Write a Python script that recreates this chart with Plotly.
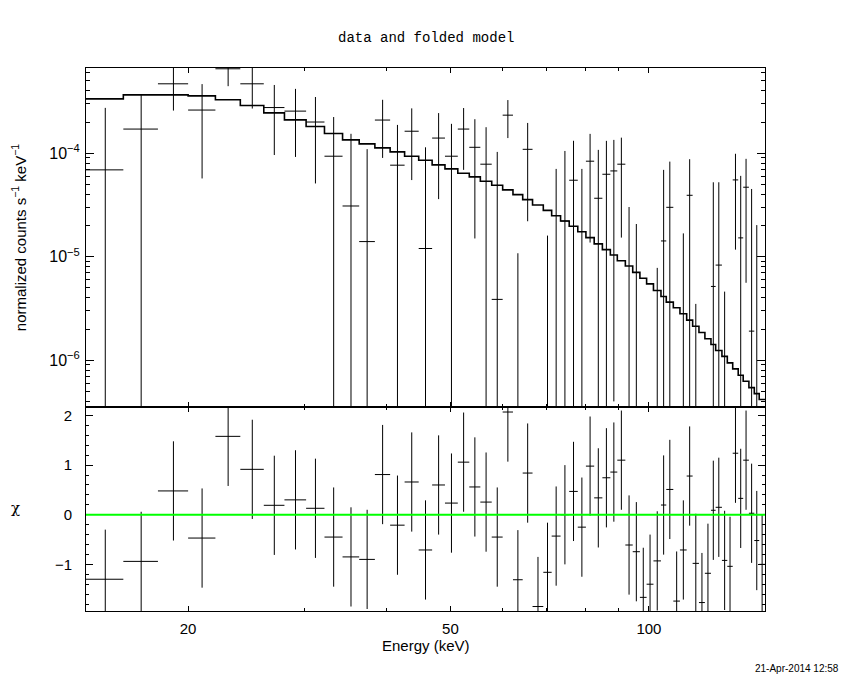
import math

import plotly.graph_objects as go
from plotly.subplots import make_subplots

# Spectrum: bin edges (keV), data, 1-sigma errors,
# folded model (normalized counts s^-1 keV^-1) and chi residuals

e_edges = [14.0, 15.95, 18.0, 20.0, 22.0, 24.0, 26.05, 28.0, 30.2, 32.2,
           34.3, 36.35, 38.4, 40.5, 42.6, 44.75, 46.9, 49.05, 51.3, 53.4,
           55.5, 57.75, 60.0, 62.2, 64.35, 66.6, 69.15, 71.2, 73.45, 75.7,
           78.0, 80.25, 82.6, 85.0, 87.4, 89.55, 92.1, 94.5, 96.9, 99.2,
           101.6, 104.3, 106.25, 108.9, 111.45, 114.1, 116.5, 119.1, 121.6, 124.2,
           126.25, 129.05, 131.5, 134.0, 136.6, 139.0, 141.8, 144.5, 147.0, 150.0]

rate = [6.9e-5, 1.71e-4, 4.68e-4, 2.61e-4, 6.54e-4, 4.68e-4, 2.76e-4, 2.55e-4, 2.0e-4, 9.35e-5,
        3.09e-5, 1.4e-5, 2.09e-4, 7.66e-5, 1.63e-4, 1.2e-5, 1.40e-4, 9.35e-5, 1.71e-4, 1.14e-4,
        7.83e-5, 3.87e-6, 2.33e-4, -8.27e-5, 1.09e-4, -1.26e-4, -6.0e-5, -9.5e-6, 2.21e-5, 5.48e-5,
        0.0, 8.37e-5, 3.67e-5, 6.26e-5, 6.74e-5, 7.83e-5, -2.65e-5, -3.3e-5, -8.0e-5, -6.45e-5,
        -3.57e-5, 1.42e-5, 3.0e-5, -8.4e-5, -3.15e-5, 3.92e-5, -4.45e-5, -7.95e-5, -5.15e-5, 5.16e-6,
        8.3e-6, -3.91e-5, -4.38e-5, 5.52e-5, 1.52e-5, 4.69e-5, 1.91e-6, -2.1e-5, -4.2e-5]

rate_err = [2.05e-4, 2.0e-4, 2.1e-4, 2.04e-4, 2.1e-4, 1.98e-4, 1.8e-4, 1.63e-4, 1.49e-4, 1.3e-4,
            1.23e-4, 9.54e-5, 1.19e-4, 1.11e-4, 1.08e-4, 1.02e-4, 1.04e-4, 9.86e-5, 1.02e-4, 9.9e-5,
            1.0e-4, 9.9e-5, 9.3e-5, 9.35e-5, 8.7e-5, 8.5e-5, 7.6e-5, 8.0e-5, 8.3e-5, 7.7e-5,
            7.05e-5, 7.0e-5, 7.1e-5, 6.9e-5, 6.7e-5, 6.3e-5, 5.67e-5, 5.37e-5, 5.2e-5, 5.0e-5,
            4.35e-5, 5.48e-5, 5.29e-5, 5.0e-5, 4.83e-5, 4.83e-5, 4.8e-5, 4.6e-5, 4.5e-5, 4.72e-5,
            4.41e-5, 4.37e-5, 4.3e-5, 4.35e-5, 4.52e-5, 4.13e-5, 4.32e-5, 4.12e-5, 4.2e-5]

model = [3.35e-4, 3.66e-4, 3.66e-4, 3.58e-4, 3.28e-4, 2.89e-4, 2.45e-4, 2.10e-4, 1.81e-4, 1.55e-4,
         1.345e-4, 1.23e-4, 1.125e-4, 1.03e-4, 9.35e-5, 8.56e-5, 7.71e-5, 7.05e-5, 6.40e-5, 5.90e-5,
         5.36e-5, 4.90e-5, 4.42e-5, 3.98e-5, 3.56e-5, 3.16e-5, 2.80e-5, 2.49e-5, 2.21e-5, 1.97e-5,
         1.74e-5, 1.53e-5, 1.33e-5, 1.17e-5, 1.04e-5, 9.14e-6, 8.12e-6, 7.06e-6, 6.2e-6, 5.47e-6,
         4.72e-6, 4.13e-6, 3.64e-6, 3.21e-6, 2.81e-6, 2.44e-6, 2.13e-6, 1.85e-6, 1.61e-6, 1.42e-6,
         1.24e-6, 1.09e-6, 9.42e-7, 8.24e-7, 7.16e-7, 6.26e-7, 5.44e-7, 4.76e-7, 4.17e-7]

chi = [-1.30, -0.94, 0.48, -0.47, 1.58, 0.915, 0.19, 0.30, 0.13, -0.45,
       -0.85, -0.90, 0.81, -0.21, 0.66, -0.71, 0.60, 0.235, 1.06, 0.56,
       0.255, -0.45, 2.07, -1.31, 0.84, -1.85, -1.16, -0.43, 0.0, 0.47,
       -0.25, 0.98, 0.34, 0.745, 0.86, 1.10, -0.61, -0.745, -1.665, -1.40,
       -0.93, 0.196, 0.51, -1.74, -0.71, 0.78, -0.98, -1.77, -1.18, 0.09,
       0.15, -0.92, -1.04, 1.24, 0.33, 1.10, 0.03, -0.52, -1.0]

e_lo = e_edges[:-1]
e_hi = e_edges[1:]
e_mid = [(a + b) / 2 for a, b in zip(e_lo, e_hi)]

FLOOR = 1e-9  # bars that run below zero just go off the bottom of the log axis

# data crosses, top panel
vx, vy, hx, hy = [], [], [], []
for lo, hi, mid, r, s in zip(e_lo, e_hi, e_mid, rate, rate_err):
    if r + s > 0:
        vx += [mid, mid, None]
        vy += [max(r - s, FLOOR), r + s, None]
    if r > 0:
        hx += [lo, hi, None]
        hy += [r, r, None]

# residual crosses (+-1 sigma), bottom panel
rvx, rvy, rhx, rhy = [], [], [], []
for lo, hi, mid, c in zip(e_lo, e_hi, e_mid, chi):
    rvx += [mid, mid, None]
    rvy += [c - 1, c + 1, None]
    rhx += [lo, hi, None]
    rhy += [c, c, None]

fig = make_subplots(rows=2, cols=1, shared_xaxes=True, vertical_spacing=0,
                    row_heights=[0.6249, 0.3751])

line_k = dict(color="black", width=1)
fig.add_trace(go.Scatter(x=vx, y=vy, mode="lines", line=line_k, connectgaps=False,
                         hoverinfo="skip"), row=1, col=1)
fig.add_trace(go.Scatter(x=hx, y=hy, mode="lines", line=line_k, connectgaps=False,
                         hoverinfo="skip"), row=1, col=1)
fig.add_trace(go.Scatter(x=e_edges, y=model + [model[-1]], mode="lines",
                         line=dict(color="black", width=1.6, shape="hv")), row=1, col=1)

fig.add_trace(go.Scatter(x=rvx, y=rvy, mode="lines", line=line_k, connectgaps=False,
                         hoverinfo="skip"), row=2, col=1)
fig.add_trace(go.Scatter(x=rhx, y=rhy, mode="lines", line=line_k, connectgaps=False,
                         hoverinfo="skip"), row=2, col=1)
fig.add_hline(y=0, line_color="#00ff00", line_width=2, row=2, col=1)

font = dict(family="Liberation Sans, Arial, sans-serif", size=15, color="black")
axis_common = dict(showline=True, linecolor="black", linewidth=1, mirror="allticks",
                   ticks="inside", tickcolor="black", tickwidth=1,
                   showgrid=False, zeroline=False, tickfont=font)

fig.update_xaxes(type="log", range=[math.log10(14), math.log10(150)],
                 tickvals=[20, 50, 100], ticklen=5,
                 minor=dict(tickvals=[30, 40, 60, 70, 80, 90], ticks="inside",
                            ticklen=3, tickcolor="black"),
                 **axis_common)
fig.update_xaxes(ticklabelstandoff=4, row=2, col=1)

minor_log = [k * 10 ** p for p in (-7, -6, -5, -4) for k in range(2, 10)]
fig.update_yaxes(type="log", range=[-6.455, -3.177], row=1, col=1,
                 tickvals=[1e-6, 1e-5, 1e-4],
                 ticktext=["10<sup>\u22126</sup>", "10<sup>\u22125</sup>", "10<sup>\u22124</sup>"],
                 ticklen=8, ticklabelstandoff=2,
                 minor=dict(tickvals=minor_log, ticks="inside", ticklen=4, tickcolor="black"),
                 **axis_common)
fig.update_yaxes(tickfont=dict(size=16), row=1, col=1)
fig.update_yaxes(range=[-1.94, 2.165], row=2, col=1,
                 tickvals=[-1, 0, 1, 2], ticklen=7, ticklabelstandoff=10,
                 minor=dict(dtick=0.2, tick0=0, ticks="inside", ticklen=3, tickcolor="black"),
                 **axis_common)

# the page adds an 8px body margin, so the figure is shifted up/left by that much
fig.update_layout(
    width=850, height=680,
    margin=dict(l=78, r=93, t=60, b=77),
    paper_bgcolor="white", plot_bgcolor="white",
    showlegend=False,
    font=font,
    annotations=[
        dict(text="data and folded model", x=0.5, y=1.055, xref="paper", yref="paper",
             showarrow=False, xanchor="center", yanchor="middle",
             font=dict(family="Liberation Mono, monospace", size=14, color="black")),
        dict(text="normalized counts s<sup>\u22121</sup> keV<sup>\u22121</sup>",
             x=-0.099, y=0.688, xref="paper", yref="paper", textangle=-90,
             showarrow=False, xanchor="center", yanchor="middle",
             font=dict(family="Liberation Sans, Arial, sans-serif", size=15, color="black")),
        dict(text="\u03c7", x=-0.104, y=0.19, xref="paper", yref="paper",
             showarrow=False, xanchor="center", yanchor="middle",
             font=dict(family="DejaVu Serif, serif", size=15, color="black")),
        dict(text="Energy (keV)", x=0.5, y=-0.063, xref="paper", yref="paper",
             showarrow=False, xanchor="center", yanchor="middle", font=font),
        dict(text="21-Apr-2014 12:58", x=1.112, y=-0.105, xref="paper", yref="paper",
             showarrow=False, xanchor="right", yanchor="middle",
             font=dict(family="Liberation Sans, Arial, sans-serif", size=10, color="black")),
    ],
)

fig.write_html("out.html")
